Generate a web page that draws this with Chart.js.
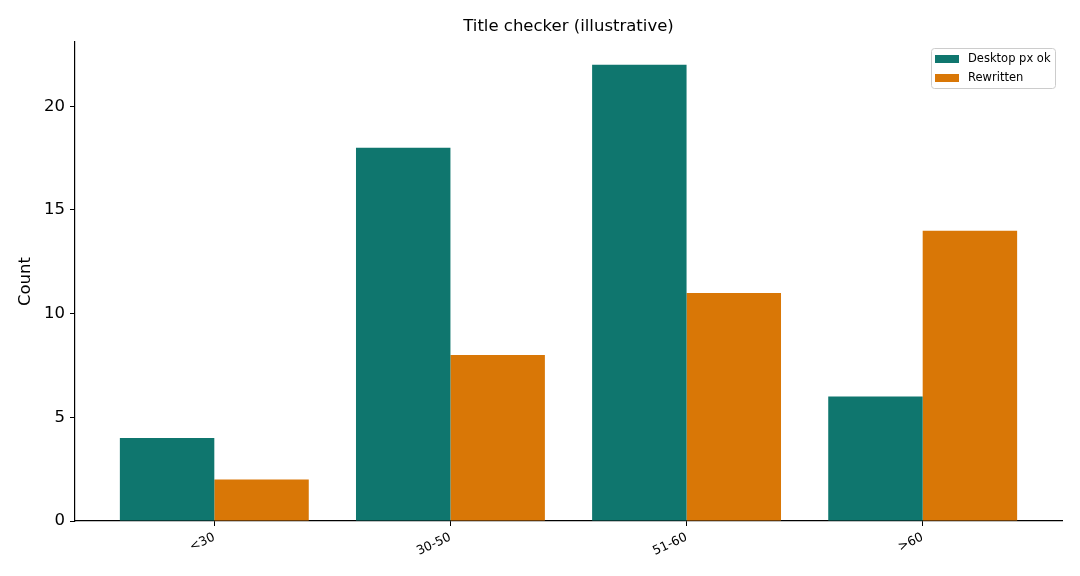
<!DOCTYPE html>
<html>
<head>
<meta charset="utf-8">
<script src="https://cdn.jsdelivr.net/npm/chart.js@4/dist/chart.umd.min.js"></script>
<style>
  html, body { margin: 0; padding: 0; background: #fff; }
  #wrap { width: 1080px; height: 576px; }
</style>
</head>
<body>
<div id="wrap"><canvas id="chart" width="1080" height="576"></canvas></div>
<script>
// Chart data
const categories = ['<30', '30-50', '51-60', '>60'];
const desktopOk = [4, 18, 22, 6];
const rewritten = [2, 8, 11, 14];
const seriesNames = ['Desktop px ok', 'Rewritten'];
const yTicks = [0, 5, 10, 15, 20];

const teal = '#0f766e';
const orange = '#d97706';
const font = "'DejaVu Sans', sans-serif";

// Title + legend drawn inside the plot like the original
const overlay = {
    id: 'overlay',
    afterDraw(chart) {
        const ctx = chart.ctx;
        const area = chart.chartArea;
        ctx.save();
        // title
        ctx.fillStyle = '#000';
        ctx.font = "16.5px " + font;
        ctx.textAlign = 'center';
        ctx.textBaseline = 'middle';
        ctx.fillText('Title checker (illustrative)', (area.left + area.right) / 2, 27);

        // legend box
        const bx = area.right - 131, by = area.top + 6, bw = 124, bh = 40;
        ctx.strokeStyle = '#cccccc';
        ctx.lineWidth = 1;
        ctx.fillStyle = 'rgba(255,255,255,0.8)';
        ctx.beginPath();
        ctx.roundRect(bx + 0.5, by + 0.5, bw, bh, 3);
        ctx.fill();
        ctx.stroke();
        const colors = [teal, orange];
        ctx.font = "11.5px " + font;
        ctx.textAlign = 'left';
        for (let i = 0; i < seriesNames.length; i++) {
            const cy = by + 11 + i * 19;
            ctx.fillStyle = colors[i];
            ctx.fillRect(bx + 4, cy - 4, 24, 8);
            ctx.fillStyle = '#000';
            ctx.fillText(seriesNames[i], bx + 37, cy);
        }
        ctx.restore();
    }
};

new Chart(document.getElementById('chart'), {
    type: 'bar',
    data: {
        datasets: [
            {
                label: seriesNames[0],
                data: desktopOk.map((v, i) => ({ x: i, y: v })),
                backgroundColor: teal,
                borderWidth: 0,
                barPercentage: 1,
                categoryPercentage: 0.8
            },
            {
                label: seriesNames[1],
                data: rewritten.map((v, i) => ({ x: i, y: v })),
                backgroundColor: orange,
                borderWidth: 0,
                barPercentage: 1,
                categoryPercentage: 0.8
            }
        ]
    },
    options: {
        responsive: false,
        animation: false,
        layout: { padding: { top: 42, right: 18, left: 0, bottom: 0 } },
        plugins: {
            legend: { display: false },
            title: { display: false },
            tooltip: { enabled: false }
        },
        scales: {
            x: {
                type: 'linear',
                offset: false,
                min: -0.59,
                max: 3.59,
                afterBuildTicks: (scale) => {
                    scale.ticks = categories.map((c, i) => ({ value: i }));
                },
                afterFit: (scale) => { scale.height = 55; },
                ticks: {
                    callback: (v) => categories[v],
                    minRotation: 25,
                    maxRotation: 25,
                    autoSkip: false,
                    color: '#000',
                    padding: 4,
                    font: { family: font, size: 12.5 }
                },
                grid: {
                    offset: false,
                    drawOnChartArea: false,
                    tickLength: 5,
                    tickColor: '#000',
                    tickWidth: 1
                },
                border: { display: true, color: '#000', width: 1.2 }
            },
            y: {
                min: 0,
                max: 23.1,
                afterBuildTicks: (scale) => {
                    scale.ticks = yTicks.map(v => ({ value: v }));
                },
                afterFit: (scale) => { scale.width = 75; },
                ticks: {
                    color: '#000',
                    padding: 5,
                    font: { family: font, size: 16.5 }
                },
                title: {
                    display: true,
                    text: 'Count',
                    color: '#000',
                    padding: { top: 16, bottom: 0 },
                    font: { family: font, size: 16.5 }
                },
                grid: {
                    drawOnChartArea: false,
                    tickLength: 5,
                    tickColor: '#000',
                    tickWidth: 1
                },
                border: { display: true, color: '#000', width: 1.2 }
            }
        }
    },
    plugins: [overlay]
});
</script>
</body>
</html>
